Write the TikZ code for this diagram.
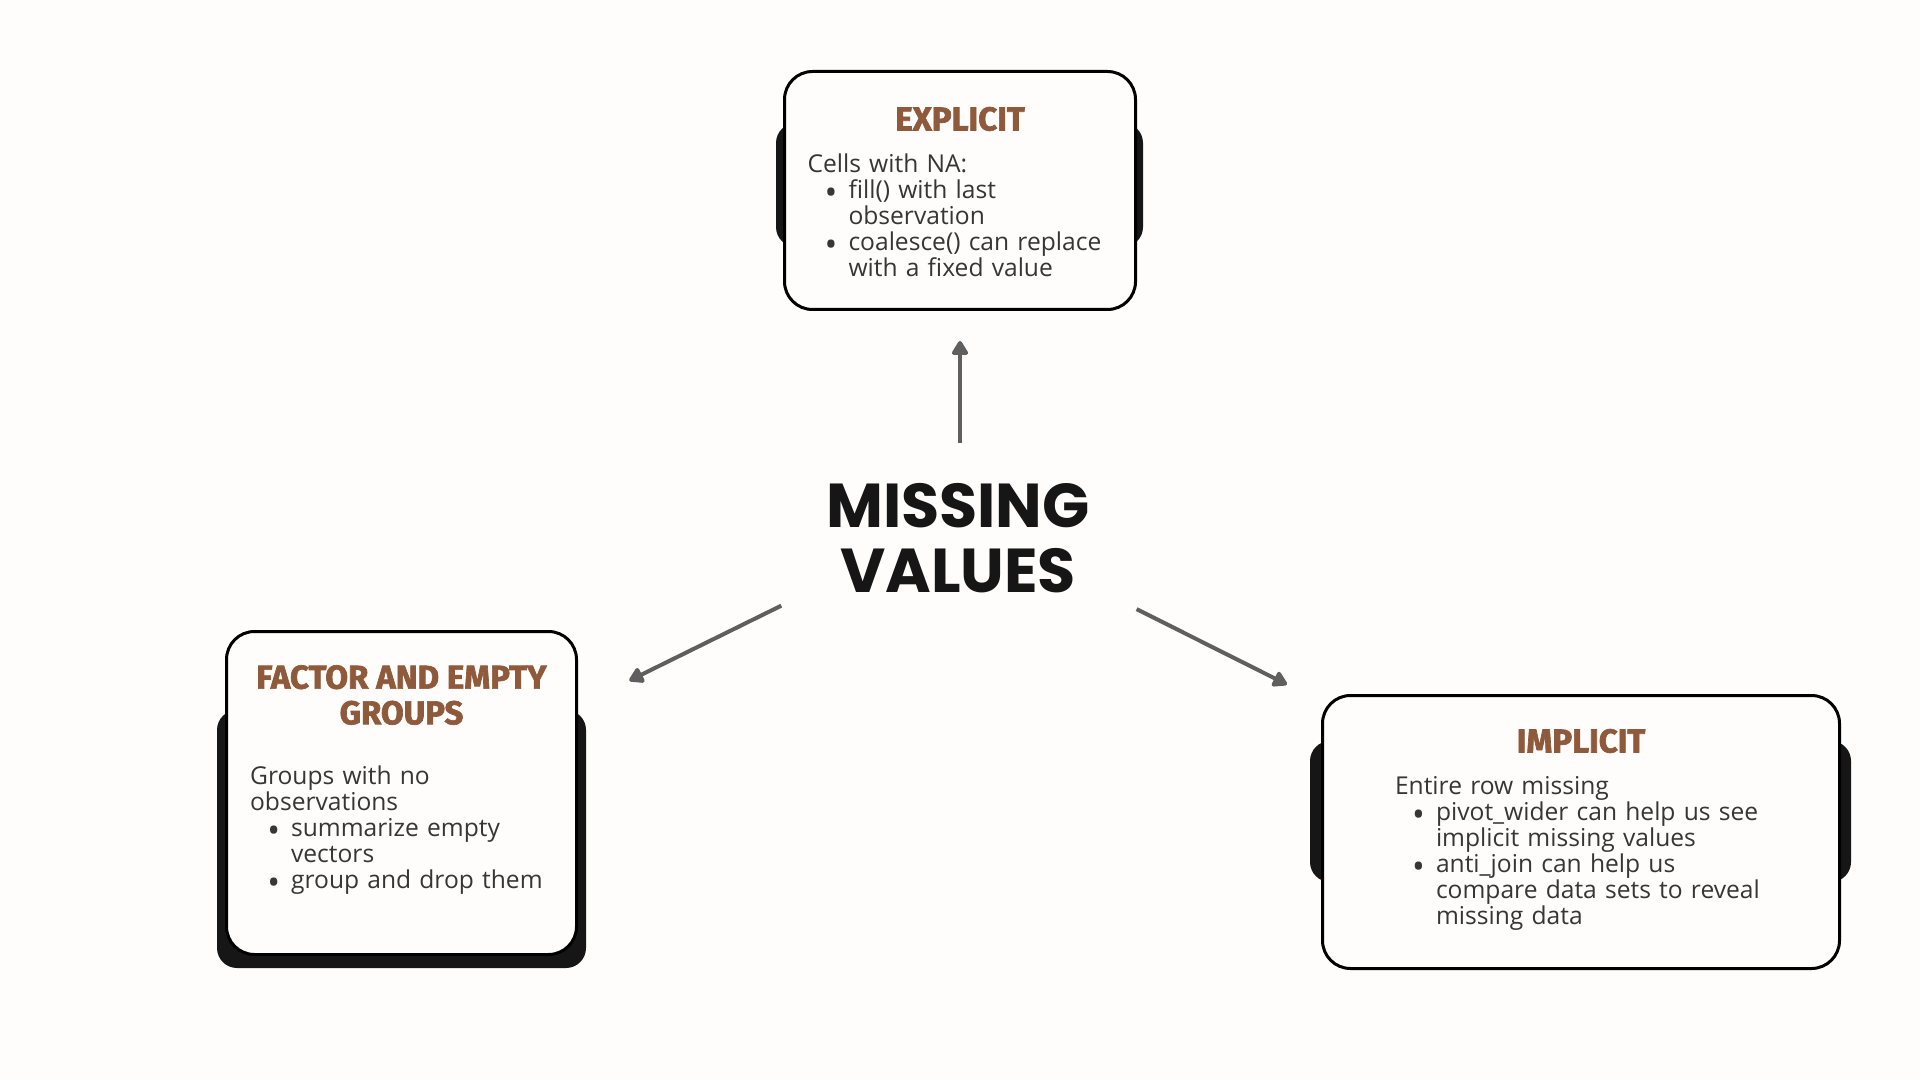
\documentclass[tikz,border=0pt]{standalone}
\usepackage{fontspec}
\setmainfont{Open Sans}
\newfontfamily\headfont{Fira Sans}[BoldFeatures={FakeBold=2}]
\newfontfamily\titlefont{Poppins}
\usetikzlibrary{arrows.meta, positioning, backgrounds}
\definecolor{cpaper}{HTML}{FEFDFB}
\definecolor{cbrown}{HTML}{8E5A3B}
\definecolor{cink}{HTML}{363636}
\definecolor{cgrey}{HTML}{5F5F5F}
\definecolor{cshade}{HTML}{161616}
\newcommand{\bul}[1]{\par\leftskip=20.5pt\noindent\llap{\smash{\raisebox{-3.2pt}{\fontsize{17}{13}\selectfont\textbullet}}\hspace{5.5pt}}#1\par}
\tikzset{
  every picture/.style={line width=1.5pt},
  card/.style={draw=black, fill=cpaper, rounded corners=14pt, inner sep=0pt},
  shade/.style={fill=cshade, rounded corners=10pt},
  arrow/.style={-{Triangle[length=8pt, width=9pt, round]}, draw=cgrey, line width=2pt},
  head/.style={font=\headfont\bfseries\fontsize{16.5}{17.8}\selectfont, text=cbrown, align=center, inner sep=0pt},
  body/.style={font=\fontsize{12.3}{13}\selectfont, text=cink, text width=#1, align=left, inner sep=0pt, anchor=north west},
  title/.style={font=\titlefont\bfseries\fontsize{31}{32.5}\selectfont, text=cshade, align=center, inner sep=0pt},
}

\begin{document}
\begin{tikzpicture}[x=0.5pt, y=-0.5pt]
  \useasboundingbox (0,0) rectangle (1920,1080);
  % cards
  \node[card, minimum width=175.5pt, minimum height=119pt] (explicit) at (960,190.5) {};
  \node[card, minimum width=175pt, minimum height=161.5pt] (factor) at (401.5,793) {};
  \node[card, minimum width=258.5pt, minimum height=136.5pt] (implicit) at (1581,832) {};
  \begin{scope}[on background layer]
    \fill[cpaper] (0,0) rectangle (1920,1080);
    \fill[shade] ([shift={(-7,53)}]explicit.north west) rectangle ([shift={(6,-64)}]explicit.south east);
    \fill[shade] ([shift={(-8,80)}]factor.north west) rectangle ([shift={(8,12)}]factor.south east);
    \fill[shade] ([shift={(-11,47)}]implicit.north west) rectangle ([shift={(10,-88)}]implicit.south east);
  \end{scope}
  % texts
  \node[head] (explicit-h) at (960,119) {EXPLICIT};
  \node[body=200pt] (explicit-b) at (806,152) {Cells with NA:
    \bul{fill() with last\\observation}
    \bul{coalesce() can replace\\with a fixed value}};
  \node[head] (factor-h) at (401.5,695) {FACTOR AND EMPTY\\GROUPS};
  \node[body=200pt] (factor-b) at (248.6,764) {Groups with no\\observations
    \bul{summarize empty\\vectors}
    \bul{group and drop them}};
  \node[head] (implicit-h) at (1581,741) {IMPLICIT};
  \node[body=260pt] (implicit-b) at (1393.5,775) {Entire row missing
    \bul{pivot\_wider can help us see\\implicit missing values}
    \bul{anti\_join can help us\\compare data sets to reveal\\missing data}};
  \node[title] (title) at (958,538.5) {MISSING\\VALUES};
  \coordinate (hub) at (957,519);
  % arrows
  \draw[arrow, shorten <=38pt, shorten >=15pt] (explicit.south |- hub) -- (explicit.south);
  \draw[arrow, shorten <=98pt, shorten >=127pt] (hub) -- (factor.center);
  \draw[arrow, shorten <=100.5pt, shorten >=164.5pt] (hub) -- (implicit.center);
\end{tikzpicture}
\end{document}
